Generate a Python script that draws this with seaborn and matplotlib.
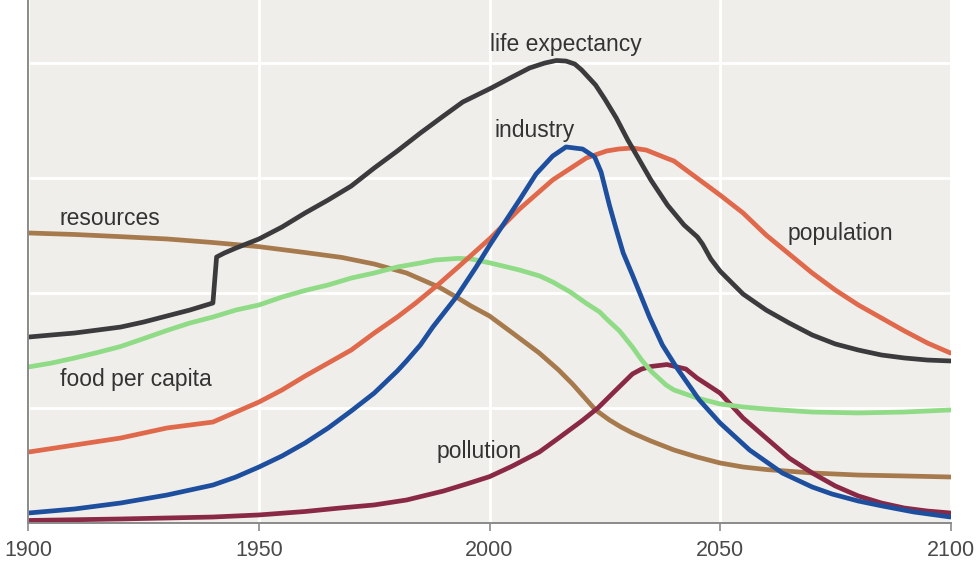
import pandas as pd
import matplotlib.pyplot as plt
import seaborn as sns

# ---------------------------------------------------------------------
# data (y is in gridline units, 0 = axis)
# ---------------------------------------------------------------------
life_years = [1900, 1905, 1910, 1915, 1920, 1925, 1930, 1935, 1940, 1940.8, 1942.5,
              1945, 1950, 1955, 1960, 1965, 1970, 1975, 1980, 1985, 1990, 1994.2,
              2000.4, 2004.5, 2008.7, 2012, 2014.5, 2016.6, 2018.5, 2020, 2023,
              2025, 2027.5, 2030, 2032.5, 2035, 2038.6, 2042.2, 2045.1, 2046.2,
              2048, 2050, 2055, 2060, 2065, 2070, 2075, 2080, 2085, 2090, 2095, 2100]
life_vals = [1.617, 1.635, 1.652, 1.678, 1.704, 1.748, 1.800, 1.852, 1.913, 2.313, 2.348,
             2.391, 2.470, 2.574, 2.696, 2.809, 2.930, 3.087, 3.235, 3.391, 3.539, 3.661,
             3.783, 3.870, 3.957, 4.000, 4.022, 4.017, 3.991, 3.939, 3.809,
             3.687, 3.522, 3.330, 3.157, 2.983, 2.765, 2.591, 2.487, 2.426,
             2.296, 2.191, 1.991, 1.852, 1.739, 1.635, 1.557, 1.504, 1.461, 1.435, 1.417, 1.409]

industry_years = [1900, 1910, 1920, 1930, 1940, 1945, 1950, 1955, 1960, 1965, 1970, 1975,
                  1980, 1982, 1985, 1987.7, 1992.8, 1997.1, 2000.2, 2002.2, 2006.5, 2010.1,
                  2013.7, 2016.6, 2020.2, 2022.8, 2024.2, 2026, 2027.4, 2029, 2031,
                  2034.7, 2037.5, 2040.5, 2045.5, 2050, 2056.4, 2063.5, 2070, 2074.3,
                  2080, 2085.2, 2092, 2100]
industry_vals = [0.087, 0.122, 0.174, 0.243, 0.330, 0.400, 0.487, 0.583, 0.696, 0.826, 0.974, 1.130,
                 1.322, 1.409, 1.548, 1.704, 1.965, 2.226, 2.426, 2.548, 2.809, 3.035,
                 3.191, 3.270, 3.252, 3.183, 3.052, 2.765, 2.565, 2.348, 2.157,
                 1.791, 1.548, 1.357, 1.070, 0.870, 0.635, 0.435, 0.313, 0.252,
                 0.191, 0.148, 0.096, 0.052]

population_years = [1900, 1910, 1920, 1930, 1940, 1945, 1950, 1955, 1960, 1965, 1970, 1975,
                    1980, 1984, 1989, 1993.2, 2000.2, 2006.5, 2013.7, 2021, 2025.4, 2028,
                    2031, 2034, 2038.3, 2040, 2045, 2050, 2055, 2060, 2065, 2070, 2075,
                    2080, 2085, 2090, 2095, 2100]
population_vals = [0.617, 0.678, 0.739, 0.826, 0.878, 0.965, 1.052, 1.157, 1.278, 1.391, 1.504, 1.652,
                   1.791, 1.913, 2.078, 2.226, 2.478, 2.730, 2.983, 3.174, 3.235, 3.252,
                   3.261, 3.243, 3.174, 3.148, 3.000, 2.852, 2.696, 2.504, 2.339, 2.174, 2.026,
                   1.896, 1.783, 1.670, 1.565, 1.478]

food_years = [1900, 1905, 1910, 1915, 1920, 1925, 1930, 1935, 1940, 1945, 1950, 1955, 1960,
              1965, 1970, 1975, 1980, 1985, 1988.2, 1993.2, 1996, 2000.2, 2006.5, 2010.9,
              2013.7, 2017.5, 2021, 2023.9, 2025.4, 2028.2, 2031, 2033, 2035, 2038.3, 2040,
              2045, 2050, 2055, 2060, 2070, 2080, 2090, 2100]
food_vals = [1.357, 1.391, 1.435, 1.483, 1.535, 1.604, 1.674, 1.739, 1.791, 1.852, 1.896, 1.965, 2.022,
             2.070, 2.130, 2.174, 2.226, 2.261, 2.287, 2.301, 2.296, 2.261, 2.200, 2.148,
             2.096, 2.009, 1.910, 1.835, 1.774, 1.670, 1.530, 1.417, 1.322, 1.200, 1.157,
             1.087, 1.035, 1.009, 0.991, 0.965, 0.957, 0.965, 0.983]

resources_years = [1900, 1910, 1920, 1930, 1940, 1950, 1960, 1968, 1975, 1982, 1986, 1989.2,
                   1992.8, 1996, 2000, 2005, 2010.8, 2015, 2018, 2020.5, 2023, 2026, 2028.5,
                   2031, 2035, 2040, 2045, 2050, 2055, 2060, 2070, 2080, 2090, 2100]
resources_vals = [2.522, 2.509, 2.490, 2.470, 2.439, 2.403, 2.352, 2.309, 2.252, 2.174, 2.104, 2.048,
                  1.965, 1.887, 1.800, 1.652, 1.478, 1.330, 1.209, 1.096, 0.983, 0.896, 0.835,
                  0.783, 0.713, 0.635, 0.574, 0.522, 0.487, 0.465, 0.435, 0.417, 0.409, 0.400]

pollution_years = [1900, 1920, 1940, 1950, 1960, 1967.5, 1975, 1982, 1990, 1995, 2000, 2005,
                   2010.8, 2015, 2020, 2023.5, 2027, 2031, 2033, 2035, 2038.5, 2042.6, 2045,
                   2050, 2055, 2060, 2065, 2070, 2075, 2080, 2085, 2090, 2095, 2100]
pollution_vals = [0.022, 0.035, 0.052, 0.070, 0.100, 0.130, 0.157, 0.200, 0.278, 0.339, 0.403, 0.496,
                  0.617, 0.739, 0.887, 1.000, 1.139, 1.296, 1.339, 1.361, 1.378, 1.339, 1.261,
                  1.130, 0.913, 0.739, 0.565, 0.435, 0.322, 0.235, 0.174, 0.130, 0.104, 0.087]

series_names = ["resources", "pollution", "food per capita", "population",
                "industry", "life expectancy"]
series_years = [resources_years, pollution_years, food_years, population_years,
                industry_years, life_years]
series_vals = [resources_vals, pollution_vals, food_vals, population_vals,
               industry_vals, life_vals]

colors = {
    "resources": "#a77a4d",
    "pollution": "#8a2946",
    "food per capita": "#8fdb86",
    "population": "#e0684b",
    "industry": "#1e4f9e",
    "life expectancy": "#3b3b3d",
}

# inline curve names: left edge year, centre value
label_year = [1906.8, 1988.6, 1906.8, 2064.6, 2001.1, 2000.1]
label_val = [2.652, 0.626, 1.252, 2.517, 3.417, 4.165]

frames = []
for name, yrs, vals in zip(series_names, series_years, series_vals):
    frames.append(pd.DataFrame({"year": yrs, "value": vals, "series": name}))
df = pd.concat(frames, ignore_index=True)

# =====================================================================
# plot
# =====================================================================
sns.set_theme(style="white")
plt.rcParams['font.family'] = ['Liberation Sans', 'DejaVu Sans']

fig = plt.figure(figsize=(9.76, 5.64), dpi=100)
ax = fig.add_axes([0.0292, 0.0727, 0.9447, 0.9273])
ax.set_facecolor("#efeeea")

sns.lineplot(data=df, x="year", y="value", hue="series", hue_order=series_names,
             palette=colors, estimator=None, sort=True, linewidth=3.4,
             legend=False, ax=ax)
for line in ax.lines:
    line.set_solid_joinstyle("round")
    line.set_solid_capstyle("round")

for name, lx, ly in zip(series_names, label_year, label_val):
    ax.text(lx, ly, name, fontsize=16.5, color="#333333", va="center", ha="left")

ax.set_xlim(1900, 2100)
ax.set_ylim(0, 4.548)
ax.set_xticks([1900, 1950, 2000, 2050, 2100])
ax.set_yticks([1, 2, 3, 4])
ax.set_yticklabels([])
ax.grid(True, color="white", linewidth=2)
ax.set_axisbelow(True)
ax.set_xlabel("")
ax.set_ylabel("")

for side in ["top", "right"]:
    ax.spines[side].set_visible(False)
for side in ["left", "bottom"]:
    ax.spines[side].set_color("#8a8a8a")
    ax.spines[side].set_linewidth(1.4)
    ax.spines[side].set_zorder(5)

ax.tick_params(axis="x", bottom=True, length=6, width=1.2, color="#8a8a8a",
               labelsize=15.5, labelcolor="#4a4a4a", pad=6)
ax.tick_params(axis="y", left=False, length=0)

fig.savefig("out.png", dpi=100)
